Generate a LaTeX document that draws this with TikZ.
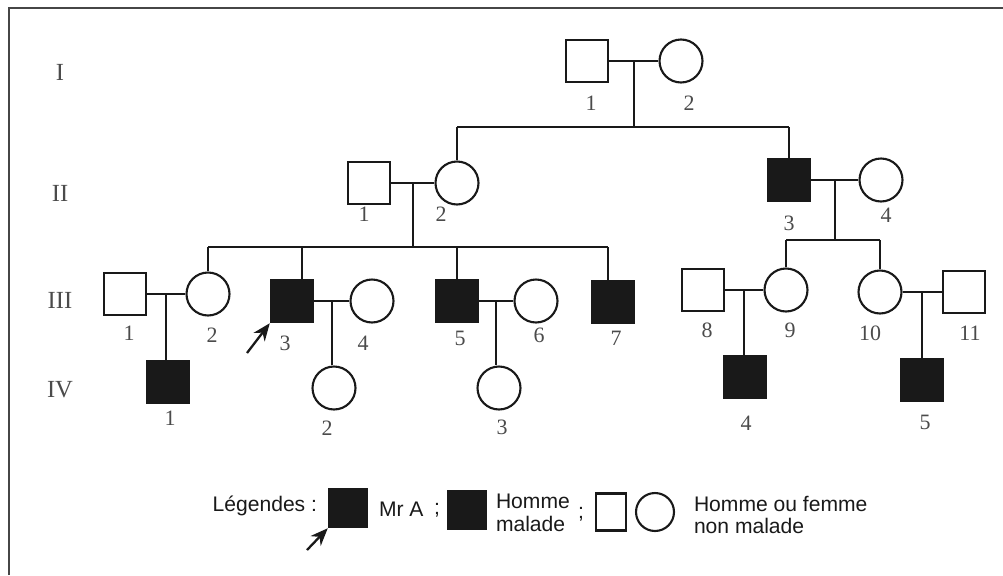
\documentclass[tikz,border=0pt]{standalone}
\usepackage{fontspec}
\setmainfont{Liberation Serif}
\setsansfont{Liberation Sans}
\usetikzlibrary{arrows.meta, positioning, calc}
\definecolor{ink}{RGB}{25,25,25}
\definecolor{numgray}{RGB}{75,75,75}
\definecolor{framegray}{RGB}{70,70,70}

\begin{document}
\begin{tikzpicture}[x=0.02cm, y=-0.02cm, color=ink, line width=1.3pt,
    male/.style={rectangle, draw=ink, line width=1.4pt, minimum size=0.84cm, inner sep=0pt},
    ill/.style={male, fill=ink},
    female/.style={circle, draw=ink, line width=1.2pt, minimum size=0.86cm, inner sep=0pt},
    num/.style={font=\fontsize{12.5}{14}\selectfont, text=numgray},
    gen/.style={font=\fontsize{14}{16}\selectfont, text=numgray},
    pointer/.style={-{Stealth[length=10pt, width=8pt]}, line width=1.3pt},
    legtext/.style={font=\sffamily\fontsize{12}{13}\selectfont, text=ink, align=left}]
    \useasboundingbox (0,0) rectangle (1003,575);
    \draw[framegray, line width=1.7pt] (9,575) -- (9,8) -- (1003,8);

    % generations
    \node[gen] (gI) at (60,72) {I};
    \node[gen] (gII) at (60,193) {II};
    \node[gen] (gIII) at (60,300) {III};
    \node[gen] (gIV) at (60,390) {IV};

    % generation I
    \node[male] (i1) at (587,61) {};
    \node[female] (i2) at (681,61) {};
    \node[num] (li1) at (591,103) {1};
    \node[num] (li2) at (689,103) {2};

    % generation II
    \node[male] (ii1) at (369,183) {};
    \node[female] (ii2) at (457,183) {};
    \node[ill] (ii3) at (789,180) {};
    \node[female] (ii4) at (881,180) {};
    \node[num] (lii1) at (364,214) {1};
    \node[num] (lii2) at (441,214) {2};
    \node[num] (lii3) at (789,223) {3};
    \node[num] (lii4) at (886,215) {4};

    % generation III
    \node[male] (iii1) at (125,294) {};
    \node[female] (iii2) at (208,294) {};
    \node[ill] (iii3) at (292,301) {};
    \node[female] (iii4) at (372,301) {};
    \node[ill] (iii5) at (457,301) {};
    \node[female] (iii6) at (536,301) {};
    \node[ill] (iii7) at (613,302) {};
    \node[male] (iii8) at (703,290) {};
    \node[female] (iii9) at (786,290) {};
    \node[female] (iii10) at (880,292) {};
    \node[male] (iii11) at (964,292) {};
    \node[num] (liii1) at (129,333) {1};
    \node[num] (liii2) at (212,335) {2};
    \node[num] (liii3) at (285,343) {3};
    \node[num] (liii4) at (363,343) {4};
    \node[num] (liii5) at (460,338) {5};
    \node[num] (liii6) at (539,335) {6};
    \node[num] (liii7) at (616,338) {7};
    \node[num] (liii8) at (707,330) {8};
    \node[num] (liii9) at (790,330) {9};
    \node[num] (liii10) at (870,333) {10};
    \node[num] (liii11) at (970,333) {11};

    % generation IV
    \node[ill] (iv1) at (168,382) {};
    \node[female] (iv2) at (334,388) {};
    \node[female] (iv3) at (499,388) {};
    \node[ill] (iv4) at (745,377) {};
    \node[ill] (iv5) at (922,380) {};
    \node[num] (liv1) at (170,418) {1};
    \node[num] (liv2) at (327,428) {2};
    \node[num] (liv3) at (502,427) {3};
    \node[num] (liv4) at (746,423) {4};
    \node[num] (liv5) at (925,422) {5};

    \coordinate (sibII) at (0,127);
    \coordinate (sibIIIa) at (0,247);
    \coordinate (sibIIIb) at (0,240);
    \coordinate (t3) at ([xshift=0.2cm]iii3.north);
    \coordinate (t7) at ([xshift=-0.1cm]iii7.north);

    % couples and children
    \draw (i1) -- coordinate (ui) (i2);
    \draw (ui) -- (ui |- sibII);
    \draw (ii2.north |- sibII) -- (ii3.north |- sibII);
    \draw (ii2.north |- sibII) -- (ii2.north);
    \draw (ii3.north |- sibII) -- (ii3.north);

    \draw (ii1) -- coordinate (uii) (ii2);
    \draw (uii) -- (uii |- sibIIIa);
    \draw (iii2.north |- sibIIIa) -- (t7 |- sibIIIa);
    \draw (iii2.north |- sibIIIa) -- (iii2.north);
    \draw (t3 |- sibIIIa) -- (t3);
    \draw (iii5.north |- sibIIIa) -- (iii5.north);
    \draw (t7 |- sibIIIa) -- (t7);

    \draw (ii3) -- coordinate (uii3) (ii4);
    \draw (uii3) -- (uii3 |- sibIIIb);
    \draw (iii9.north |- sibIIIb) -- (iii10.north |- sibIIIb);
    \draw (iii9.north |- sibIIIb) -- (iii9.north);
    \draw (iii10.north |- sibIIIb) -- (iii10.north);

    \draw (iii1) -- coordinate (uiii1) (iii2);
    \draw (uiii1) -- (uiii1 |- iv1.north);
    \draw (iii3) -- coordinate (uiii3) (iii4);
    \draw (uiii3) -- (uiii3 |- iv2.north);
    \draw (iii5) -- coordinate (uiii5) (iii6);
    \draw (uiii5) -- (uiii5 |- iv3.north);
    \draw (iii8) -- coordinate (uiii8) (iii9);
    \draw (uiii8) -- (uiii8 |- iv4.north);
    \draw (iii10) -- coordinate (uiii10) (iii11);
    \draw (uiii10) -- (uiii10 |- iv5.north);

    % Mr A
    \coordinate (pmr) at (247,353);
    \draw[pointer] (pmr) -- (iii3.south west);

    % legend
    \node[legtext, anchor=east] (lgkey) at (324,506) {Légendes :};
    \node[ill, minimum size=0.76cm] (lgA) at (348,508) {};
    \coordinate (plg) at (307,550);
    \draw[pointer] (plg) -- (lgA.south west);
    \node[legtext, anchor=west] (lgAtxt) at (372,509) {Mr A};
    \node[legtext] (sc1) at (437,510) {;};
    \node[ill, minimum size=0.76cm] (lgM) at (467,510) {};
    \node[legtext, anchor=west] (lgMtxt) at (489,513) {Homme\\malade};
    \node[legtext] (sc2) at (581,514) {;};
    \node[male, minimum width=0.6cm, minimum height=0.74cm] (lgS) at (611,512) {};
    \node[female, minimum size=0.76cm] (lgC) at (655,512) {};
    \node[legtext, anchor=west] (lgCtxt) at (687,515) {Homme ou femme\\non malade};
\end{tikzpicture}
\end{document}
